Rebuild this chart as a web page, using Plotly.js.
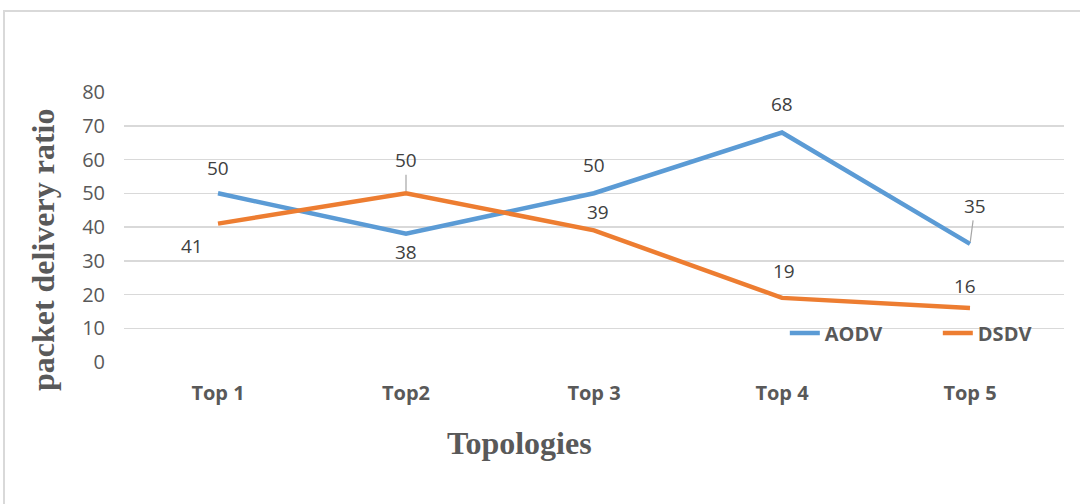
<!DOCTYPE html>
<html>
<head>
<meta charset="utf-8">
<script src="https://cdn.plot.ly/plotly-3.0.1.min.js"></script>
<style>
html,body{margin:0;padding:0;background:#fff;}
#frame{position:absolute;left:3px;top:10px;width:1090px;height:500px;border:2px solid #d9d9d9;box-sizing:border-box;pointer-events:none;z-index:5;}
#chart{width:1080px;height:504px;}
</style>
</head>
<body>
<div id="frame"></div>
<div id="chart"></div>
<script>
// Data
var categories = ['Top 1', 'Top2', 'Top 3', 'Top 4', 'Top 5'];
var aodvValues = [50, 38, 50, 68, 35];
var dsdvValues = [41, 50, 39, 19, 16];
var yTickValues = [0, 10, 20, 30, 40, 50, 60, 70, 80];

// Label placement (pixel offsets from each point)
var aodvLabelDx = [0, 0, 0, 0, 5];
var aodvLabelDy = [-25, 18, -28, -29, -38];
var aodvLeader = [false, false, false, false, true];
var dsdvLabelDx = [-26, 0, 4, 2, -5];
var dsdvLabelDy = [22, -33, -18, -27, -22];
var dsdvLeader = [false, true, false, false, false];

var textColor = '#595959';
var sansFamily = 'Open Sans, Noto Sans, sans-serif';
var serifFamily = 'Liberation Serif, Times New Roman, serif';
var labelFont = {family: sansFamily, size: 19, color: '#404040'};

function makeLabels(values, dx, dy, leader) {
  return values.map(function (v, i) {
    var a = {x: categories[i], y: v, xref: 'x', yref: 'y', text: String(v), font: labelFont};
    if (leader[i]) {
      a.showarrow = true; a.arrowhead = 0; a.arrowwidth = 1.2; a.arrowcolor = '#a6a6a6';
      a.ax = dx[i]; a.ay = dy[i]; a.standoff = 2;
    } else {
      a.showarrow = false; a.xshift = dx[i]; a.yshift = -dy[i];
    }
    return a;
  });
}

var traces = [
  {x: categories, y: aodvValues, name: 'AODV', type: 'scatter', mode: 'lines',
   line: {color: '#5b9bd5', width: 4.5}},
  {x: categories, y: dsdvValues, name: 'DSDV', type: 'scatter', mode: 'lines',
   line: {color: '#ed7d31', width: 4.5}}
];

var annotations = makeLabels(aodvValues, aodvLabelDx, aodvLabelDy, aodvLeader)
  .concat(makeLabels(dsdvValues, dsdvLabelDx, dsdvLabelDy, dsdvLeader));

annotations.push({xref: 'paper', yref: 'paper', x: 0.421, y: -0.30, xanchor: 'center', yanchor: 'middle',
  showarrow: false, text: '<b>Topologies</b>', font: {family: serifFamily, size: 32, color: textColor}});
annotations.push({xref: 'paper', yref: 'paper', x: -0.086, y: 0.415, xanchor: 'center', yanchor: 'middle',
  showarrow: false, textangle: -90,
  text: '<b>packet delivery ratio</b>', font: {family: serifFamily, size: 32, color: textColor}});

var layout = {
  width: 1080, height: 504,
  margin: {l: 124, r: 16, t: 92, b: 142, autoexpand: false},
  paper_bgcolor: '#ffffff', plot_bgcolor: '#ffffff',
  showlegend: true,
  legend: {orientation: 'h', x: 0.703, y: 0.107, xanchor: 'left', yanchor: 'middle',
    entrywidth: 108, entrywidthmode: 'pixels',
    font: {family: sansFamily, size: 20, color: textColor, weight: 'bold'},
    bgcolor: 'rgba(0,0,0,0)'},
  xaxis: {type: 'category', range: [-0.5, 4.5], showgrid: false, zeroline: false, showline: false,
    ticks: '', tickfont: {family: sansFamily, size: 20, color: textColor, weight: 'bold'},
    ticklabelstandoff: 17, automargin: false},
  yaxis: {range: [0, 80], tickvals: yTickValues, showgrid: true, gridcolor: '#d9d9d9', gridwidth: 1.5,
    zeroline: false, showline: false, ticks: '',
    tickfont: {family: sansFamily, size: 20, color: textColor},
    ticklabelstandoff: 18, automargin: false},
  annotations: annotations
};

Plotly.newPlot('chart', traces, layout, {displayModeBar: false, staticPlot: true});
</script>
</body>
</html>
